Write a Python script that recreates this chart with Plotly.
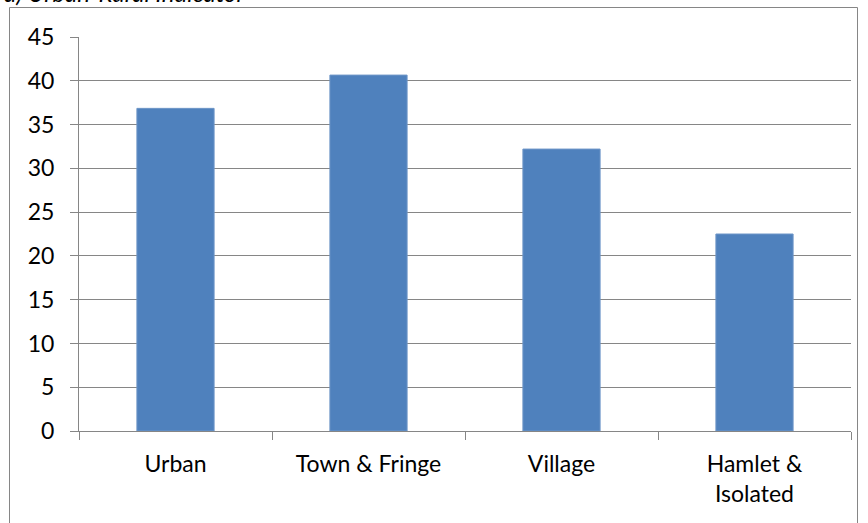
import plotly.graph_objects as go

categories = ["Urban", "Town & Fringe", "Village", "Hamlet &<br>Isolated"]
values = [36.85, 40.65, 32.2, 22.5]
y_ticks = [0, 5, 10, 15, 20, 25, 30, 35, 40, 45]

W, H = 868, 523
ml, mr, mt, mb = 79, 17, 37, 92
pw, ph = W - ml - mr, H - mt - mb

def px(x):
    return (x - ml) / pw

def py(y):
    return (H - mb - y) / ph

fig = go.Figure()
fig.add_trace(go.Bar(
    x=categories, y=values,
    marker=dict(color="#4F81BD", line=dict(color="#6E96C8", width=1)),
    width=0.4,
))

font = dict(family="Lato, Noto Sans, sans-serif", size=23, color="#000000")

fig.update_layout(
    width=W, height=H,
    margin=dict(l=ml, r=mr, t=mt, b=mb),
    paper_bgcolor="white", plot_bgcolor="white",
    showlegend=False,
    font=font,
    bargap=0.6,
    xaxis=dict(
        type="category", showgrid=False, showline=True, linecolor="#868686", linewidth=1,
        ticks="outside", tickson="boundaries", ticklen=8, tickcolor="#868686",
        tickfont=font, range=[-0.5, 3.5], ticklabelstandoff=12,
    ),
    yaxis=dict(
        range=[0, 45], tickvals=y_ticks, showgrid=True, gridcolor="#868686", gridwidth=1,
        showline=True, linecolor="#868686", linewidth=1, ticks="outside", ticklen=8,
        tickcolor="#868686", tickfont=font, zeroline=False, ticklabelstandoff=11,
    ),
    shapes=[dict(
        type="rect", xref="paper", yref="paper",
        x0=px(9.5), x1=px(857.5), y0=py(7.5), y1=py(540),
        line=dict(color="#868686", width=1), fillcolor="rgba(0,0,0,0)", layer="below",
    )],
    annotations=[dict(
        text="<i>a) Urban-Rural Indicator</i>", xref="paper", yref="paper",
        x=px(2), y=py(9), xanchor="left", yanchor="bottom", showarrow=False,
        font=dict(family="Lato, sans-serif", size=24, color="#000000"),
    )],
)

fig.write_html(
    "out.html",
    config={"displayModeBar": False},
    post_script="document.body.style.margin='0';document.body.style.padding='0';",
)
